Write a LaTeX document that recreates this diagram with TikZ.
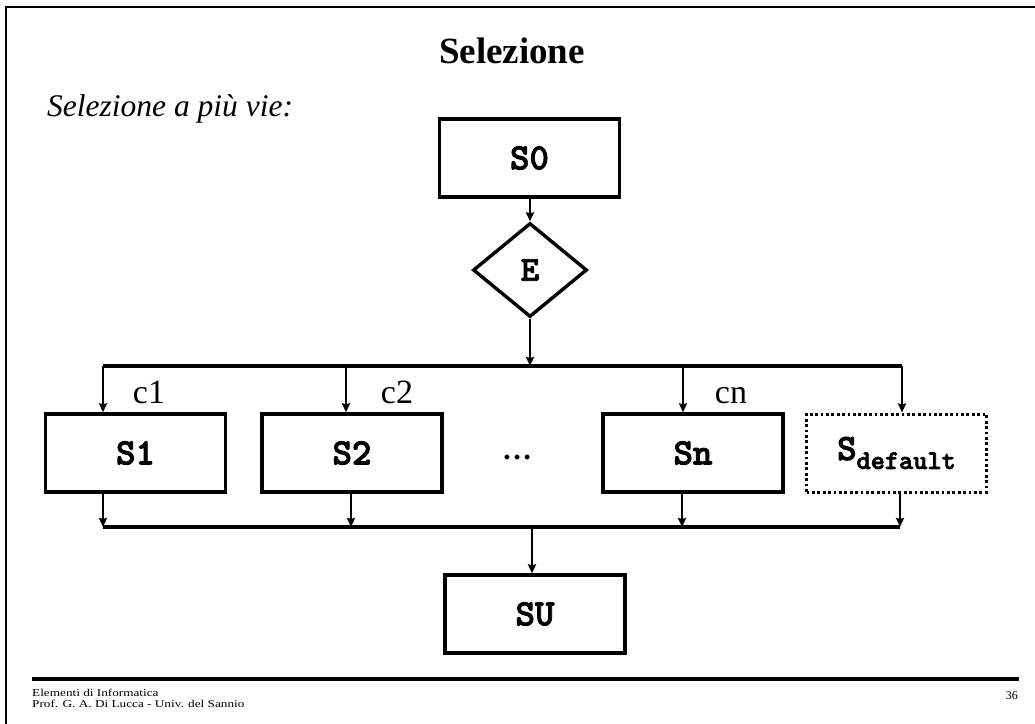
\documentclass[tikz,border=0pt]{standalone}
\usepackage{fontspec}
\usepackage{graphicx}
\setmainfont{Liberation Serif}
\newfontfamily\codefont[FakeBold=2.5]{lmmonolt10-bold.otf}
\usetikzlibrary{arrows.meta,shapes.geometric}

\begin{document}
\begin{tikzpicture}[x=1pt,y=-1pt,
  stmt/.style={draw,line width=3.4pt,minimum width=180pt,minimum height=78pt,
    inner sep=0pt,font=\fontsize{37}{40}\selectfont\codefont},
  dflt/.style={stmt,line width=3pt,dash pattern=on 2.8pt off 2.6pt},
  cond/.style={draw,shape=diamond,line width=3.4pt,minimum width=114pt,
    minimum height=94pt,inner sep=0pt,font=\fontsize{35}{38}\selectfont\codefont},
  flow/.style={line width=2.9pt,-{Stealth[length=9pt,width=8pt,inset=1pt]}},
  bus/.style={line width=3.4pt},
  caselbl/.style={font=\fontsize{34}{38}\selectfont,inner sep=0pt,anchor=base},
  foot/.style={font=\fontsize{10.5}{12.5}\selectfont,inner sep=0pt,anchor=base west}
]
\useasboundingbox (0,0) rectangle (1035,723);

% slide frame and footer rule
\draw[line width=2.8pt] (1040,7) -- (6,7) -- (6,730);
\draw[line width=3.4pt] (32,679) -- (1019,679);

% headings
\node[font=\fontsize{37}{40}\selectfont\bfseries,inner sep=0pt,anchor=base] (title) at (512,63) {Selezione};
\node[font=\fontsize{31.5}{34}\selectfont\itshape,inner sep=0pt,anchor=base west] (sub) at (47,116) {Selezione a più vie:};

% statements
\node[stmt] (s0) at (529.5,158) {S0};
\node[cond] (e) at (530,270) {E};
\node[stmt] (s1) at (135.5,453) {S1};
\node[stmt] (s2) at (352,453) {S2};
\node[stmt] (sn) at (693,453) {Sn};
\node[dflt] (sd) at (896.5,453) {S\raisebox{-9pt}{\fontsize{27}{29}\selectfont default}};
\node[stmt] (su) at (535,614) {SU};
\node[font=\fontsize{30}{32}\selectfont\bfseries,inner sep=0pt] (dots) at (517,457) {\ldots};

% branching bus
\coordinate (t1) at (103,366);
\coordinate (t2) at (346,366);
\coordinate (tn) at (683,366);
\coordinate (td) at (902,366);
\coordinate (tm) at (530,366);
\draw[flow] (s0.south -| e) -- (e.north);
\draw[flow] (e.south) -- (tm);
\draw[bus] (t1) -- (td);
\draw[flow] (t1) -- (t1 |- s1.north);
\draw[flow] (t2) -- (t2 |- s2.north);
\draw[flow] (tn) -- (tn |- sn.north);
\draw[flow] (td) -- (td |- sd.north);

% case labels
\node[caselbl] (c1) at (149,403) {c1};
\node[caselbl] (c2) at (397,403) {c2};
\node[caselbl] (cn) at (731,403) {cn};

% joining bus
\coordinate (b1) at (103,527);
\coordinate (b2) at (351,527);
\coordinate (bn) at (682,527);
\coordinate (bd) at (900,527);
\coordinate (bm) at (532,527);
\draw[flow] (b1 |- s1.south) -- (b1);
\draw[flow] (b2 |- s2.south) -- (b2);
\draw[flow] (bn |- sn.south) -- (bn);
\draw[flow] (bd |- sd.south) -- (bd);
\draw[bus] (b1) -- (bd);
\draw[flow] (bm) -- (bm |- su.north);

% footer
\node[foot] (f1) at (32,696) {\scalebox{1.26}[1]{Elementi di Informatica}};
\node[foot] (f2) at (32,707.5) {\scalebox{1.26}[1]{Prof. G. A. Di Lucca - Univ. del Sannio}};
\node[font=\fontsize{12}{14}\selectfont,inner sep=0pt,anchor=base east] (pg) at (1018,699) {36};
\end{tikzpicture}
\end{document}
